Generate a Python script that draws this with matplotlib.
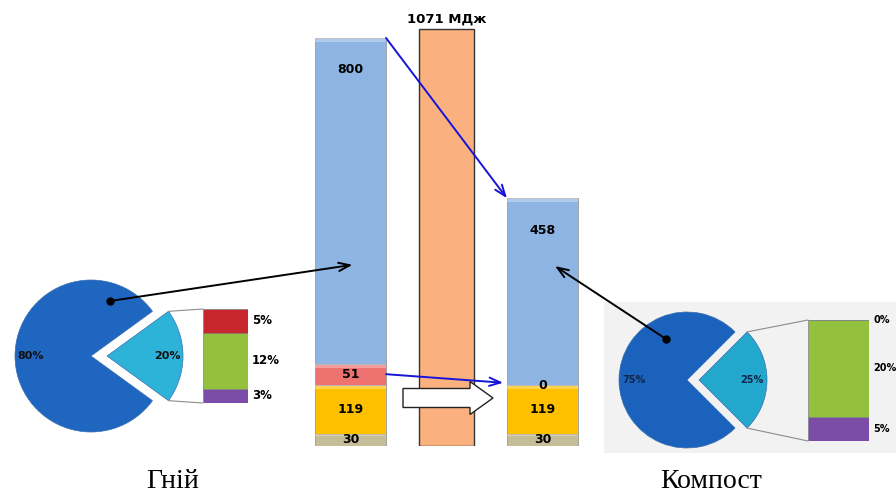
import matplotlib
matplotlib.use("Agg")
import matplotlib.pyplot as plt
import numpy as np
from matplotlib.patches import ConnectionPatch, FancyArrow

# ---- data ----
stack_names = ["base", "gold", "red", "blue"]
manure_stack = [30, 119, 51, 800]      # Гній, МДж
compost_stack = [30, 119, 0, 458]      # Компост, МДж
total_energy = 1071                    # МДж
total_label = "1071 МДж"

manure_pie = [80, 20]
compost_pie = [75, 25]
manure_split = [3, 12, 5]              # bottom -> top: purple, green, red
compost_split = [5, 20, 0]

group_labels = ["Гній", "Компост"]

stack_colors = ["#C4BD97", "#FFC000", "#EE7370", "#8DB4E2"]
split_colors = ["#7B4CA8", "#93C13D", "#C8282D"]

W, H = 896, 495
fig = plt.figure(figsize=(W / 100, H / 100), dpi=100)
fig.patch.set_facecolor("white")


def px_axes(x0, y0, x1, y1, **kw):
    return fig.add_axes([x0 / W, 1 - y1 / H, (x1 - x0) / W, (y1 - y0) / H], **kw)


# light grey panel behind the compost pie
bg = px_axes(604, 302, 896, 453)
bg.set_facecolor("#F2F2F2")
bg.set_xticks([])
bg.set_yticks([])
for s in bg.spines.values():
    s.set_visible(False)

# ---- main stacked bars ----
ax = px_axes(292.9, 20, 600.1, 446)
ax.set_xlim(-0.6, 2.6)
ax.set_ylim(0, 1044)
ax.axis("off")

bw = 0.74
for xpos, stack in [(0, manure_stack), (2, compost_stack)]:
    bottom = 0
    for i, v in enumerate(stack):
        ax.bar(xpos, v, bottom=bottom, width=bw, color=stack_colors[i],
               edgecolor="#9A9A9A", linewidth=0.6, zorder=2)
        # lighter bevel strip on top of each segment
        if v > 0:
            hb = min(v * 0.15, 10)
            ax.bar(xpos, hb, bottom=bottom + v - hb, width=bw, color="white",
                   alpha=0.3, linewidth=0, zorder=3)
        if i == 3:
            ax.annotate(str(v), (xpos, bottom + v), xytext=(0, -23),
                        textcoords="offset points", ha="center", va="center",
                        fontsize=9, fontweight="bold", zorder=5)
        else:
            ax.text(xpos, bottom + v / 2, str(v), ha="center", va="center",
                    fontsize=9, fontweight="bold", zorder=5)
        bottom += v

ax2 = ax.twinx()
ax2.set_ylim(0, 1094)
ax2.axis("off")
ax2.bar(1, total_energy, width=0.57, color="#FBB07F", edgecolor="#333333",
        linewidth=1.0, zorder=1)
ax2.annotate(total_label, (1, total_energy), xytext=(0, 7),
             textcoords="offset points", ha="center", va="center",
             fontsize=9.5, fontweight="bold")


# ---- pies ----
def draw_pie(box, xlim, ylim, values, r, startangle, offset, colors,
             pct_dist, pct_size, pct_color):
    pa = px_axes(*box)
    pa.pie(values, startangle=startangle, radius=r, explode=[0, offset],
           colors=colors, autopct="%d%%", pctdistance=pct_dist,
           wedgeprops=dict(linewidth=0.5, edgecolor="#3A6FB0"),
           textprops=dict(fontsize=pct_size, fontweight="bold", color=pct_color))
    pa.set_xlim(*xlim)
    pa.set_ylim(*ylim)
    pa.set_aspect("equal")
    pa.axis("off")
    return pa


r_l, off_l, ang_l = 76, 16, 36
r_r, off_r, ang_r = 68, 12, 45
pie_l = draw_pie((1, 266, 201, 446), (-90, 110), (-90, 90), manure_pie, r_l, ang_l,
                 off_l, ["#1E66C0", "#2DB3D7"], 0.8, 8, "#111111")
pie_r = draw_pie((609, 300, 789, 460), (-78, 102), (-80, 80), compost_pie, r_r, ang_r,
                 off_r, ["#1B62BC", "#22A7CD"], 0.78, 7, "#10254A")


# ---- bar-of-pie ----
def draw_split(box, values, ymax, label_size):
    ba = px_axes(*box)
    ba.set_xlim(-0.5, 0.5)
    ba.set_ylim(0, ymax)
    ba.axis("off")
    bottom = 0
    for i, v in enumerate(values):
        ba.bar(0, v, bottom=bottom, width=1, color=split_colors[i],
               edgecolor="#7F7F7F", linewidth=0.5)
        y = bottom + v / 2 if v > 0 else bottom
        ba.annotate(f"{v}%", (0.5, y), xytext=(3, 0), textcoords="offset points",
                    ha="left", va="center", fontsize=label_size, fontweight="bold")
        bottom += v
    return ba


bar_l = draw_split((203, 309, 248, 403), manure_split, 20, 8.5)
bar_r = draw_split((808, 320, 869, 441), compost_split, 25, 7)

# connector lines pie slice -> split bar
for pa, ba, r, off, ang, ymax in [(pie_l, bar_l, r_l, off_l, ang_l, 20),
                                   (pie_r, bar_r, r_r, off_r, ang_r, 25)]:
    dx = off + r * np.cos(np.radians(ang))
    dy = r * np.sin(np.radians(ang))
    for sy, by in [(dy, ymax), (-dy, 0)]:
        fig.add_artist(ConnectionPatch((dx, sy), (-0.5, by), "data", "data",
                                       axesA=pa, axesB=ba, color="#8C8C8C", lw=0.8))

# ---- arrows ----
blue = "#1515D8"
astyle = "->,head_length=0.8,head_width=0.3"
fig.add_artist(ConnectionPatch((0 + bw / 2, 1000), (2 - bw / 2, 607), "data", "data",
                               axesA=ax, axesB=ax, color=blue, lw=1.4,
                               arrowstyle=astyle, zorder=6))
fig.add_artist(ConnectionPatch((0 + bw / 2, 176), (2 - bw / 2 - 0.04, 155), "data", "data",
                               axesA=ax, axesB=ax, color=blue, lw=1.4,
                               arrowstyle=astyle, zorder=6))

fig.add_artist(ConnectionPatch((19, 55), (0.02, 444), "data", "data",
                               axesA=pie_l, axesB=ax, color="black", lw=1.4,
                               arrowstyle=astyle, zorder=6))
pie_l.plot(19, 55, "o", color="black", ms=5, zorder=7)

fig.add_artist(ConnectionPatch((-21, 41), (2.13, 441), "data", "data",
                               axesA=pie_r, axesB=ax, color="black", lw=1.4,
                               arrowstyle=astyle, zorder=6))
pie_r.plot(-21, 41, "o", color="black", ms=5, zorder=7)

# block arrow between the bars
ov = px_axes(0, 0, W, H)
ov.set_xlim(0, W)
ov.set_ylim(H, 0)
ov.axis("off")
ov.add_patch(FancyArrow(403, 398, 90, 0, width=19, head_width=33, head_length=23,
                        length_includes_head=True, facecolor="white",
                        edgecolor="#222222", linewidth=1.0))

# group titles
fig.text(173 / W, 1 - 482 / H, group_labels[0], ha="center", va="center",
         fontsize=20, family="Liberation Serif")
fig.text(711 / W, 1 - 481 / H, group_labels[1], ha="center", va="center",
         fontsize=20, family="Liberation Serif")

fig.savefig("out.png", dpi=100, facecolor="white")
